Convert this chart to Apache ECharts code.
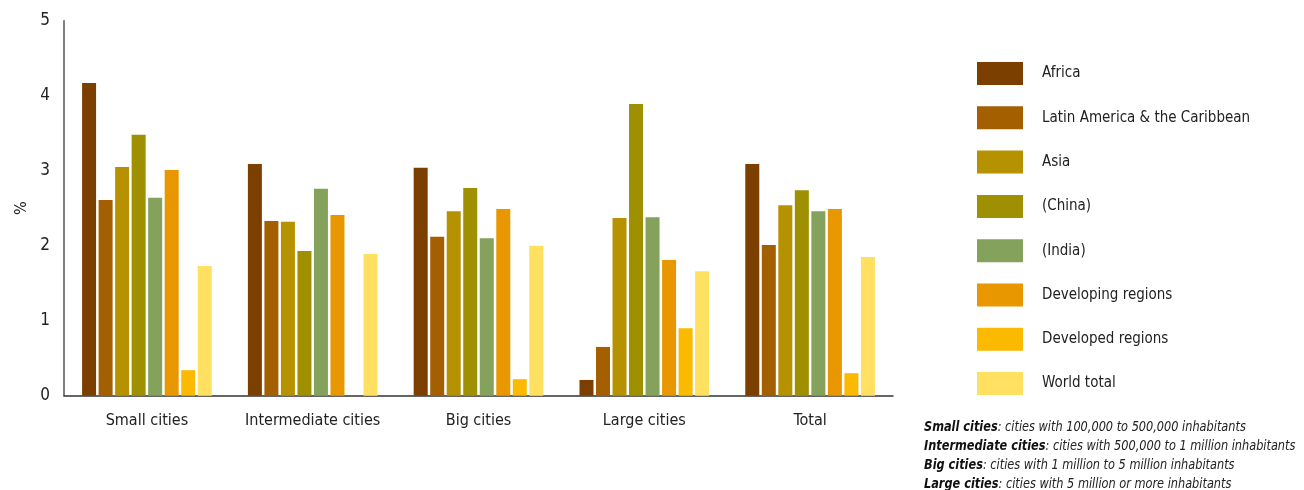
<!DOCTYPE html>
<html>
<head>
<meta charset="utf-8">
<script src="https://cdn.jsdelivr.net/npm/echarts@6/dist/echarts.min.js"></script>
<style>
html,body{margin:0;padding:0;background:#fff;}
#c{width:1304px;height:490px;}
</style>
</head>
<body>
<div id="c"></div>
<script>
const categories = ["Small cities", "Intermediate cities", "Big cities", "Large cities", "Total"];
const seriesNames = ["Africa", "Latin America & the Caribbean", "Asia", "(China)", "(India)", "Developing regions", "Developed regions", "World total"];
const africa     = [4.17, 3.09, 3.04, 0.21, 3.09];
const latinAm    = [2.61, 2.33, 2.12, 0.65, 2.01];
const asia       = [3.05, 2.32, 2.46, 2.37, 2.54];
const china      = [3.48, 1.93, 2.77, 3.89, 2.74];
const india      = [2.64, 2.76, 2.10, 2.38, 2.46];
const developing = [3.01, 2.41, 2.49, 1.81, 2.49];
const developed  = [0.34, null, 0.22, 0.90, 0.30];
const world      = [1.73, 1.89, 2.00, 1.66, 1.85];
const yTicks = [0, 1, 2, 3, 4, 5];
const notes = [
  ["Small cities", ": cities with 100,000 to 500,000 inhabitants"],
  ["Intermediate cities", ": cities with 500,000 to 1 million inhabitants"],
  ["Big cities", ": cities with 1 million to 5 million inhabitants"],
  ["Large cities", ": cities with 5 million or more inhabitants"]
];

const colors = ["#7B3F00", "#A35F00", "#B79200", "#9E9000", "#85A25C", "#E89700", "#FBB900", "#FFE060"];
const dataSets = [africa, latinAm, asia, china, india, developing, developed, world];
const FONT = '"DejaVu Sans Condensed", "Liberation Sans Narrow", sans-serif';

const chart = echarts.init(document.getElementById('c'), null, {renderer: 'canvas'});

const series = seriesNames.map((n, i) => ({
  name: n,
  type: 'bar',
  data: dataSets[i],
  barWidth: 14,
  barGap: '18%',
  itemStyle: {color: colors[i]},
  emphasis: {disabled: true}
}));

const noteText = notes.map(n => '{b|' + n[0] + '}{i|' + n[1] + '}').join('\n');

chart.setOption({
  animation: false,
  textStyle: {fontFamily: FONT},
  grid: {left: 64, right: 411, top: 20.7, bottom: 94.3, containLabel: false, outerBoundsMode: 'none'},
  legend: {
    orient: 'vertical',
    left: 972,
    top: 57,
    itemWidth: 46,
    itemHeight: 23,
    itemGap: 21.3,
    icon: 'rect',
    selectedMode: false,
    textStyle: {fontFamily: FONT, fontSize: 15, color: '#222', padding: [0, 0, 0, 14]},
    data: seriesNames
  },
  xAxis: {
    type: 'category',
    data: categories,
    axisLine: {lineStyle: {color: '#333', width: 1.5}},
    axisTick: {inside: true, length: 9, lineStyle: {color: '#333', width: 1.5}},
    axisLabel: {interval: 0, fontFamily: FONT, fontSize: 16, color: '#222', margin: 17}
  },
  yAxis: {
    type: 'value',
    min: 0,
    max: 5,
    interval: 1,
    name: '%',
    nameLocation: 'middle',
    nameGap: 34,
    nameTextStyle: {fontFamily: FONT, fontSize: 16, color: '#222'},
    axisLine: {show: true, lineStyle: {color: '#555', width: 1.5}},
    axisTick: {inside: true, length: 20, lineStyle: {color: '#222', width: 1.5}},
    splitLine: {show: false},
    axisLabel: {fontFamily: FONT, fontSize: 17, color: '#222', margin: 14,
      formatter: v => yTicks.includes(v) ? String(v) : ''}
  },
  graphic: [{
    type: 'text',
    x: 924,
    y: 418,
    scaleX: 0.9,
    style: {
      text: noteText,
      lineHeight: 19,
      rich: {
        b: {fontFamily: FONT, fontSize: 14, fontWeight: 'bold', fontStyle: 'italic', fill: '#111', lineHeight: 19},
        i: {fontFamily: FONT, fontSize: 14, fontStyle: 'italic', fill: '#222', lineHeight: 19}
      }
    }
  }],
  series: series
});
</script>
</body>
</html>
